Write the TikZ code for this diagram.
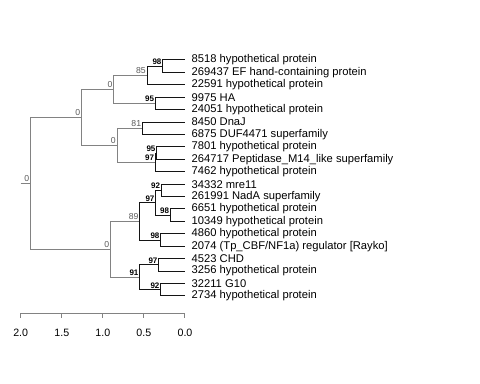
\documentclass[tikz,border=0pt]{standalone}
\usepackage{fontspec}
\setmainfont{Liberation Sans}
\usepackage{tikz}
\usetikzlibrary{calc}

\begin{document}
\begin{tikzpicture}[x=0.75pt,y=0.75pt,yscale=-1,
    bedge/.style={draw={rgb,255:red,20;green,20;blue,20},line width=0.75pt},
    gedge/.style={draw={rgb,255:red,130;green,130;blue,130},line width=0.75pt},
    leaf/.style={anchor=west,inner xsep=4.8pt,inner ysep=0pt,font=\fontsize{8.4}{9}\selectfont},
    blab/.style={anchor=south east,inner sep=1pt,font=\fontsize{6}{6}\selectfont\bfseries},
    glab/.style={anchor=south east,inner sep=1pt,text={rgb,255:red,90;green,90;blue,90},font=\fontsize{6.5}{6}\selectfont},
    ticklab/.style={inner sep=0pt,font=\fontsize{8}{9}\selectfont}]
\path[use as bounding box] (0,0) rectangle (480,384);

% Leaf labels
\node[leaf] (t8518) at (185,60) {8518 hypothetical protein};
\node[leaf] (t269437) at (185,72.4) {269437 EF hand-containing protein};
\node[leaf] (t22591) at (185,84.8) {22591 hypothetical protein};
\node[leaf] (t9975) at (185,97.3) {9975 HA};
\node[leaf] (t24051) at (185,109.7) {24051 hypothetical protein};
\node[leaf] (t8450) at (185,122.1) {8450 DnaJ};
\node[leaf] (t6875) at (185,134.5) {6875 DUF4471 superfamily};
\node[leaf] (t7801) at (185,146.9) {7801 hypothetical protein};
\node[leaf] (t264717) at (185,159.4) {264717 Peptidase\_M14\_like superfamily};
\node[leaf] (t7462) at (185,171.8) {7462 hypothetical protein};
\node[leaf] (t34332) at (185,184.2) {34332 mre11};
\node[leaf] (t261991) at (185,196.6) {261991 NadA superfamily};
\node[leaf] (t6651) at (185,209.0) {6651 hypothetical protein};
\node[leaf] (t10349) at (185,221.5) {10349 hypothetical protein};
\node[leaf] (t4860) at (185,233.9) {4860 hypothetical protein};
\node[leaf] (t2074) at (185,246.3) {2074 (Tp\_CBF/NF1a) regulator [Rayko]};
\node[leaf] (t4523) at (185,258.7) {4523 CHD};
\node[leaf] (t3256) at (185,271.1) {3256 hypothetical protein};
\node[leaf] (t32211) at (185,283.6) {32211 G10};
\node[leaf] (t2734) at (185,296) {2734 hypothetical protein};

% Inner nodes
\coordinate (n98a) at (163,66.2);
\coordinate (n85) at (147.3,75.5);
\coordinate (n95a) at (155.7,103.5);
\coordinate (n0a) at (114,89.5);
\coordinate (n81) at (142.7,128.3);
\coordinate (n95b) at (157,153.2);
\coordinate (n97a) at (155.7,162.5);
\coordinate (n0b) at (117.3,145.4);
\coordinate (n0c) at (81.7,117.4);
\coordinate (n92a) at (161.7,190.4);
\coordinate (n98b) at (170.7,215.3);
\coordinate (n97b) at (156,202.8);
\coordinate (n98c) at (161,240.1);
\coordinate (n89) at (140,221.5);
\coordinate (n97c) at (159,264.9);
\coordinate (n92b) at (161,289.8);
\coordinate (n91) at (140,277.4);
\coordinate (n0d) at (110.7,249.4);
\coordinate (nroot) at (30.7,183.4);
\coordinate (stub) at (20.7,183.4);

% Edges
\draw[gedge] (stub) -- (nroot);
\draw[gedge] (nroot) |- (n0c);
\draw[gedge] (nroot) |- (n0d);
\draw[gedge] (n0c) |- (n0a);
\draw[gedge] (n0c) |- (n0b);
\draw[gedge] (n0a) |- (n85);
\draw[gedge] (n0a) |- (n95a);
\draw[gedge] (n0b) |- (n81);
\draw[gedge] (n0b) |- (n97a);
\draw[gedge] (n0d) |- (n89);
\draw[gedge] (n0d) |- (n91);
\draw[bedge] (n85) |- (n98a);
\draw[bedge] (n85) |- (t22591.west);
\draw[bedge] (n98a) |- (t8518.west);
\draw[bedge] (n98a) |- (t269437.west);
\draw[bedge] (n95a) |- (t9975.west);
\draw[bedge] (n95a) |- (t24051.west);
\draw[bedge] (n81) |- (t8450.west);
\draw[bedge] (n81) |- (t6875.west);
\draw[bedge] (n97a) |- (n95b);
\draw[bedge] (n97a) |- (t7462.west);
\draw[bedge] (n95b) |- (t7801.west);
\draw[bedge] (n95b) |- (t264717.west);
\draw[bedge] (n89) |- (n97b);
\draw[bedge] (n89) |- (n98c);
\draw[bedge] (n97b) |- (n92a);
\draw[bedge] (n97b) |- (n98b);
\draw[bedge] (n92a) |- (t34332.west);
\draw[bedge] (n92a) |- (t261991.west);
\draw[bedge] (n98b) |- (t6651.west);
\draw[bedge] (n98b) |- (t10349.west);
\draw[bedge] (n98c) |- (t4860.west);
\draw[bedge] (n98c) |- (t2074.west);
\draw[bedge] (n91) |- (n97c);
\draw[bedge] (n91) |- (n92b);
\draw[bedge] (n97c) |- (t4523.west);
\draw[bedge] (n97c) |- (t3256.west);
\draw[bedge] (n92b) |- (t32211.west);
\draw[bedge] (n92b) |- (t2734.west);

% Support values
\node[glab] (lroot) at (nroot) {0};
\node[glab] (l0c) at (n0c) {0};
\node[glab] (l0a) at (n0a) {0};
\node[glab] (l0b) at (n0b) {0};
\node[glab] (l0d) at (n0d) {0};
\node[glab] (l85) at (n85) {85};
\node[glab] (l81) at (n81) {81};
\node[glab] (l89) at (n89) {89};
\node[blab] (l98a) at (n98a) {98};
\node[blab] (l95a) at (n95a) {95};
\node[blab] (l95b) at (n95b) {95};
\node[blab] (l97a) at ($(n97a)+(0,-0.5)$) {97};
\node[blab] (l92a) at (n92a) {92};
\node[blab] (l97b) at (n97b) {97};
\node[blab] (l98b) at (n98b) {98};
\node[blab] (l98c) at (n98c) {98};
\node[blab] (l97c) at (n97c) {97};
\node[blab] (l92b) at (n92b) {92};
\node[blab] (l91) at (n91) {91};

% Scale axis
\coordinate (a20) at (20.7,313.3);
\coordinate (a00) at (185,313.3);
\draw[gedge] (a20) -- (a00);
\draw[gedge] (20.7,313.3) -- (20.7,317.8);
\draw[gedge] (61.8,313.3) -- (61.8,317.8);
\draw[gedge] (102.9,313.3) -- (102.9,317.8);
\draw[gedge] (143.9,313.3) -- (143.9,317.8);
\draw[gedge] (185,313.3) -- (185,317.8);
% Text Node
\node[ticklab] (x20) at (20.7,333) {2.0};
\node[ticklab] (x15) at (61.8,333) {1.5};
\node[ticklab] (x10) at (102.9,333) {1.0};
\node[ticklab] (x05) at (143.9,333) {0.5};
\node[ticklab] (x00) at (185,333) {0.0};
\end{tikzpicture}
\end{document}
